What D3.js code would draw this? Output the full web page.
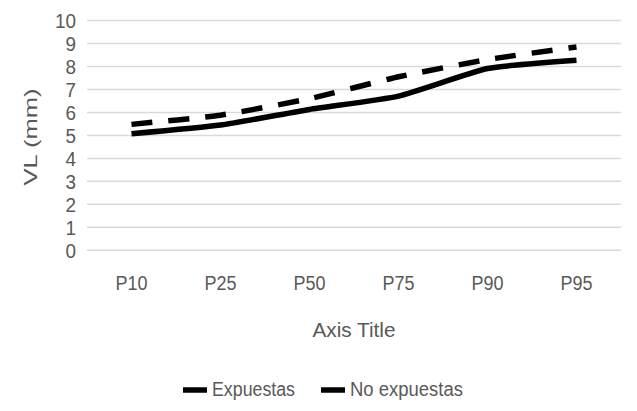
<!DOCTYPE html>
<html>
<head>
<meta charset="utf-8">
<script src="https://cdn.jsdelivr.net/npm/d3@7"></script>
<style>
  html, body { margin: 0; padding: 0; background: #fff; }
  svg { display: block; }
  text { font-family: "Liberation Sans", Arial, sans-serif; fill: #595959; }
</style>
</head>
<body>
<svg id="chart" width="637" height="411"></svg>
<script>
const categories = ["P10", "P25", "P50", "P75", "P90", "P95"];
const expuestas = [5.07, 5.45, 6.13, 6.71, 7.91, 8.27];
const noExpuestas = [5.48, 5.88, 6.6, 7.55, 8.3, 8.85];
const yTicks = [0, 1, 2, 3, 4, 5, 6, 7, 8, 9, 10];
const seriesNames = ["Expuestas", "No expuestas"];

const svg = d3.select("#chart");
const plot = { left: 87, right: 621, top: 20.5, bottom: 250.3 };

const x = d3.scaleBand().domain(categories).range([plot.left, plot.right]);
const y = d3.scaleLinear().domain([0, 10]).range([plot.bottom, plot.top]);

// squeeze helper: keeps text real but matches the narrow reference glyphs
function squeeze(sel, widthFn) {
  sel.each(function () {
    const t = d3.select(this);
    t.attr("textLength", widthFn(t.text(), t.text().length)).attr("lengthAdjust", "spacingAndGlyphs");
  });
}

// gridlines
svg.append("g").selectAll("line").data(yTicks).join("line")
  .attr("x1", plot.left).attr("x2", plot.right)
  .attr("y1", d => y(d)).attr("y2", d => y(d))
  .attr("stroke", "#d9d9d9").attr("stroke-width", 1.5);

// y axis labels
const yAxis = svg.append("g").attr("transform", `translate(${plot.left - 11},0)`)
  .call(d3.axisLeft(y).tickValues(yTicks).tickSize(0).tickPadding(0));
yAxis.select(".domain").remove();
yAxis.selectAll("text").attr("font-size", 20).attr("dy", "0.36em")
  .style("font-family", '"Liberation Sans", sans-serif').attr("fill", "#595959");
squeeze(yAxis.selectAll("text"), (s, n) => n * 10.5);

// x axis labels
const xAxis = svg.append("g").attr("transform", `translate(0,${plot.bottom})`)
  .call(d3.axisBottom(x).tickSize(0).tickPadding(0));
xAxis.select(".domain").remove();
xAxis.selectAll("text").attr("font-size", 20).attr("dy", 0).attr("y", 40)
  .style("font-family", '"Liberation Sans", sans-serif').attr("fill", "#595959");
squeeze(xAxis.selectAll("text"), () => 32);

// axis titles
svg.append("text").attr("x", (plot.left + plot.right) / 2).attr("y", 337)
  .attr("text-anchor", "middle").attr("font-size", 20)
  .attr("textLength", 83).attr("lengthAdjust", "spacingAndGlyphs")
  .text("Axis Title");

svg.append("text")
  .attr("transform", "translate(37,137) rotate(-90)")
  .attr("text-anchor", "middle").attr("font-size", 18)
  .attr("textLength", 97).attr("lengthAdjust", "spacingAndGlyphs")
  .text("VL (mm)");

// lines
const line = d3.line()
  .x((d, i) => x(categories[i]) + x.bandwidth() / 2)
  .y(d => y(d))
  .curve(d3.curveCardinal.tension(0.5));

svg.append("path").datum(expuestas).attr("d", line)
  .attr("fill", "none").attr("stroke", "#000").attr("stroke-width", 5.5);
svg.append("path").datum(noExpuestas).attr("d", line)
  .attr("fill", "none").attr("stroke", "#000").attr("stroke-width", 5.5)
  .attr("stroke-dasharray", "21,16");

// legend
const legendItems = [
  { name: seriesNames[0], sx: 183, tx: 212, w: 83 },
  { name: seriesNames[1], sx: 321, tx: 350, w: 113 }
];
const lg = svg.append("g");
legendItems.forEach(it => {
  lg.append("line").attr("x1", it.sx).attr("x2", it.sx + 24)
    .attr("y1", 390).attr("y2", 390).attr("stroke", "#000").attr("stroke-width", 5.5);
  lg.append("text").attr("x", it.tx).attr("y", 396).attr("font-size", 20)
    .attr("textLength", it.w).attr("lengthAdjust", "spacingAndGlyphs").text(it.name);
});
</script>
</body>
</html>
